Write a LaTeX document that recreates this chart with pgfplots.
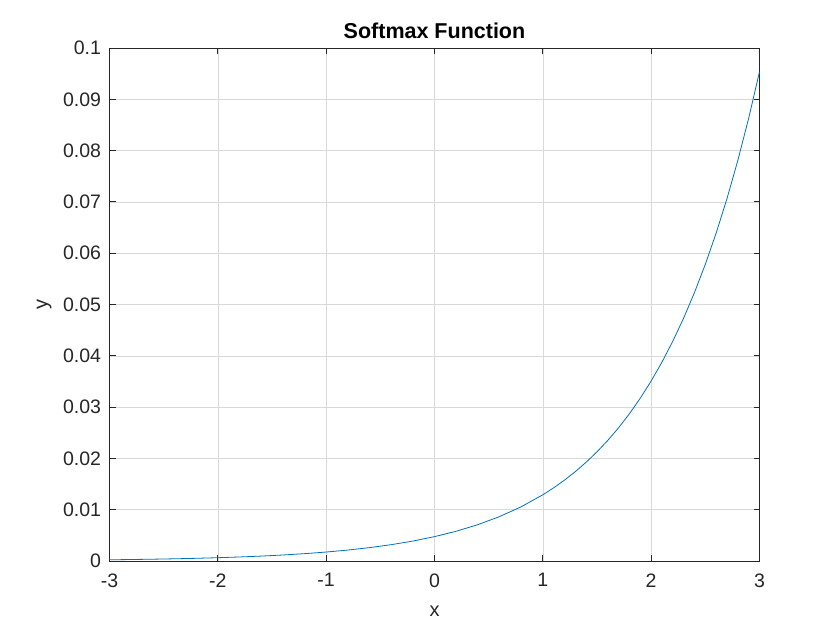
\documentclass[border=0pt]{standalone}
\usepackage{fontspec}
\setmainfont{Liberation Sans}
\usepackage{pgfplots}
\pgfplotsset{compat=1.18}
\definecolor{mblue}{RGB}{0,114,189}
\definecolor{axgray}{RGB}{38,38,38}
\begin{document}
\begin{tikzpicture}
\begin{axis}[
    at={(0pt,0pt)}, anchor=south west,
    scale only axis,
    width=650pt, height=513pt,
    xmin=-3, xmax=3, ymin=0, ymax=0.1,
    xtick={-3,-2,...,3},
    ytick={0,0.01,...,0.1},
    yticklabel style={/pgf/number format/fixed, /pgf/number format/precision=2, xshift=-5pt},
    /pgf/number format/assume math mode=true,
    scaled y ticks=false,
    tick label style={font=\fontsize{19.5}{22}\selectfont, text=axgray},
    xticklabel style={yshift=-9pt},
    label style={font=\fontsize{20}{24}\selectfont, text=axgray},
    xlabel={x}, ylabel={y},
    xlabel style={yshift=-12pt},
    ylabel style={yshift=4.5pt},
    title={\bfseries Softmax Function},
    title style={font=\fontsize{21.5}{24}\selectfont, yshift=0pt},
    grid=major,
    major grid style={color=black!15, line width=0.6pt},
    axis line style={color=axgray, line width=0.9pt},
    tick style={color=axgray, line width=0.9pt},
    tick align=inside,
    major tick length=6pt,
]
% softmax of x = -3:0.1:3
\addplot[color=mblue, line width=0.8pt] coordinates {
    (-3.0,0.0002364) (-2.8,0.0002888) (-2.6,0.0003527) (-2.4,0.0004308)
    (-2.2,0.0005262) (-2.0,0.0006427) (-1.8,0.0007849) (-1.6,0.0009587)
    (-1.4,0.0011710) (-1.2,0.0014302) (-1.0,0.0017469) (-0.8,0.0021337)
    (-0.6,0.0026061) (-0.4,0.0031831) (-0.2,0.0038878) (0.0,0.0047486)
    (0.2,0.0058000) (0.4,0.0070840) (0.6,0.0086525) (0.8,0.0105682)
    (1.0,0.0129080) (1.1,0.014265) (1.2,0.0157658) (1.3,0.017424)
    (1.4,0.0192564) (1.5,0.021282) (1.6,0.0235198) (1.7,0.025993)
    (1.8,0.0287272) (1.9,0.031748) (2.0,0.0350874) (2.1,0.038778)
    (2.2,0.0428559) (2.3,0.047363) (2.4,0.0523443) (2.5,0.057849)
    (2.6,0.0639334) (2.7,0.070657) (2.8,0.0780884) (2.9,0.086301)
    (3.0,0.0953774)
};
\end{axis}
\path[use as bounding box] (-109.5pt,-69pt) rectangle ++(840pt,630pt);
\end{tikzpicture}
\end{document}
